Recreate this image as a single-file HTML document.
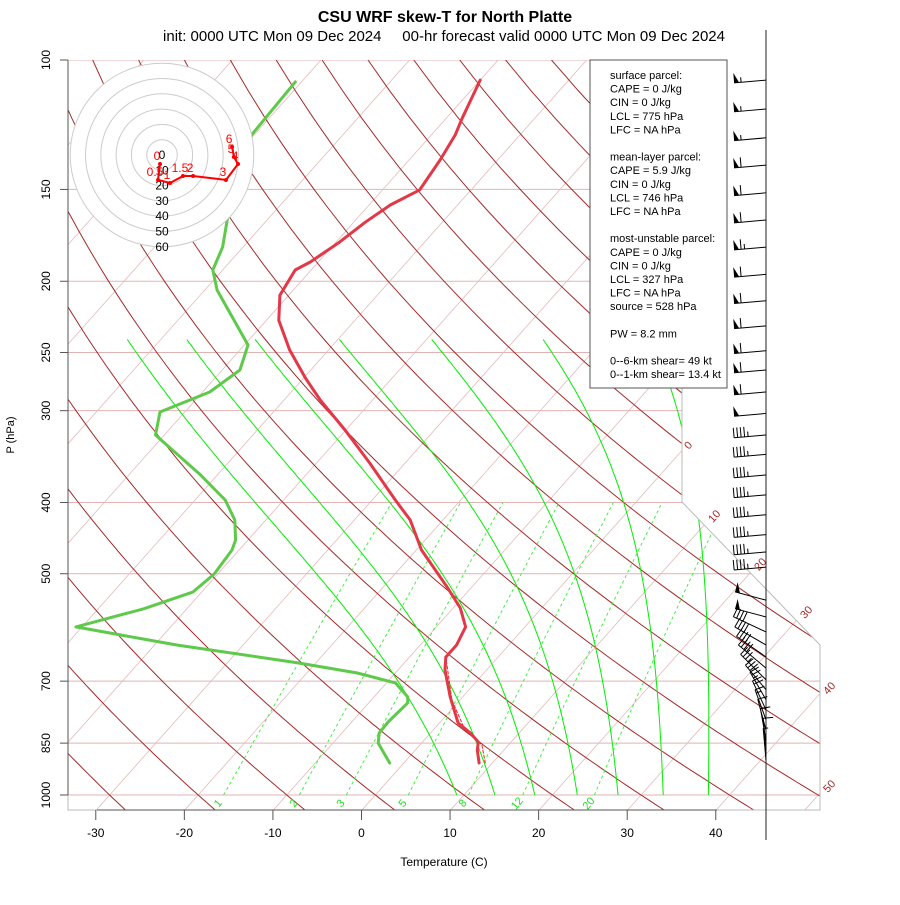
<!DOCTYPE html>
<html><head><meta charset="utf-8"><style>
body{margin:0;background:#fff;}
svg{font-family:"Liberation Sans",sans-serif;}
</style></head><body>
<svg id="chart" width="900" height="900" viewBox="0 0 900 900" xmlns="http://www.w3.org/2000/svg">
<defs>
<clipPath id="plotClip"><polygon points="68,60 682,60 682,502 820,645 820,810 68,810"/></clipPath>
</defs>
<rect width="900" height="900" fill="#fff"/>
<text x="445" y="22" text-anchor="middle" font-size="16" font-weight="bold">CSU WRF skew-T for North Platte</text>
<text x="444" y="41" text-anchor="middle" font-size="15" xml:space="preserve">init: 0000 UTC Mon 09 Dec 2024     00-hr forecast valid 0000 UTC Mon 09 Dec 2024</text>
<g id="grid" clip-path="url(#plotClip)"></g>
<g id="frame"></g>
<g id="profiles"></g>
<g id="barbs"></g>
<g id="hodo"></g>
<g id="legend">
<rect x="590" y="60" width="137" height="328" fill="#fff" stroke="#555" stroke-width="1"/>
</g>
<text x="444" y="866" text-anchor="middle" font-size="12">Temperature (C)</text>
<text x="14" y="435" text-anchor="middle" font-size="11" transform="rotate(-90 14 435)">P (hPa)</text>
</svg>
<script>
const pressureTicks=[100,150,200,250,300,400,500,700,850,1000];
const tempTicks=[-30,-20,-10,0,10,20,30,40];
const isoTemps=[-110,-100,-90,-80,-70,-60,-50,-40,-30,-20,-10,0,10,20,30,40,50];
const thetaVals=[-40,-30,-20,-10,0,10,20,30,40,50,60,70,80,90,100,110,120,130,140,150,160,170,180,190];
const moistStart=[9.2,13.5,18,22.8,27.4,32.5,37.6];
const mixVals=[1,2,3,5,8,12,20];
const tempP=[106.5,120,126.5,136.8,150.2,157.5,166.2,176.9,188.3,193.1,208.9,226,248,270.8,290.2,318.7,353.4,396.8,422.5,464.2,521.2,556.6,590.6,625.1,649.2,675.9,735.5,798,823.4,847,868.8,904.6];
const tempT=[-60,-58.2,-57.3,-56.5,-55.8,-57.6,-58.7,-59.6,-60.9,-61.8,-61,-58.6,-54.4,-49.8,-45.9,-40.1,-34,-27.4,-23.7,-19.4,-12.8,-9.2,-6.7,-5.9,-5.9,-4.7,-1.4,2.1,4.5,6.3,7,8.5];
const dewP=[107.1,126.5,165.1,179.7,193.1,205.6,244.2,264.1,282.9,301.2,323.7,366.9,396.8,422.5,449.8,464.2,500.4,529.6,558.3,590.6,605.6,625.1,661.6,682.3,703.9,735.5,749.4,795.6,823.4,849.9,904.6];
const dewT=[-80.7,-80.3,-74.5,-72.3,-71.1,-68.6,-59.6,-58,-59.2,-62.8,-61,-51.9,-46.6,-43.5,-41.4,-40.8,-40.4,-41,-44.9,-50.7,-44.9,-37.5,-21.8,-14.3,-9,-6.2,-5.6,-5.9,-5.8,-4.9,-1.6];
const parcelP=[904.6,855,815.9,742.6,661.6];
const parcelT=[9.2,7.0,3.6,-0.9,-5.2];
const barbP=[106.5,116.6,127.6,139,151.6,165.1,179.7,195.7,212.6,230,248.6,264.1,282.9,302.6,323.7,344,366.9,390.5,415.6,442.3,467,489.8,543.1,572.5,600,625,649,672,697,719,742,766,790,816,842,869,897];
const barbSpd=[55,55,55,60,60,60,65,60,60,60,60,60,60,50,45,45,45,45,45,45,45,45,50,50,40,40,40,40,35,30,25,20,15,12,10,8,5];
const barbDir=[265,265,265,265,265,265,265,265,265,265,265,265,265,265,265,265,265,265,265,265,265,265,285,285,295,300,305,310,315,320,330,335,340,345,350,355,355];
const hodoLabels=["0","0.5","1","1.5","2","3","4","5","6"];
const hodoU=[-1.3,-2.6,5.2,13.7,20.3,41.8,49.7,47,45.8];
const hodoV=[-5.9,-16.3,-18.3,-13.7,-13.7,-16.3,-5.9,-1.3,5.2];
const hodoRings=[10,20,30,40,50,60];
const legendLines=["surface parcel:","CAPE = 0 J/kg","CIN = 0 J/kg","LCL = 775 hPa","LFC = NA hPa","","mean-layer parcel:","CAPE = 5.9 J/kg","CIN = 0 J/kg","LCL = 746 hPa","LFC = NA hPa","","most-unstable parcel:","CAPE = 0 J/kg","CIN = 0 J/kg","LCL = 327 hPa","LFC = NA hPa","source = 528 hPa","","PW =  8.2 mm","","0--6-km shear= 49 kt","0--1-km shear= 13.4 kt"];

const NS="http://www.w3.org/2000/svg";
function yP(p){return 795-735*Math.log10(1000/p);}
function xT(T,p){return 362+8.857*T+0.89*(810-yP(p));}
function mk(tag,attrs,parent){const e=document.createElementNS(NS,tag);for(const k in attrs)e.setAttribute(k,attrs[k]);parent.appendChild(e);return e;}
function pathFrom(pts){return pts.map((q,i)=>(i?'L':'M')+q[0].toFixed(1)+','+q[1].toFixed(1)).join('');}
const grid=document.getElementById('grid'),frame=document.getElementById('frame'),prof=document.getElementById('profiles');

pressureTicks.forEach(p=>{const l=mk('line',{x1:68,x2:820,y1:yP(p),y2:yP(p),stroke:'#e3b3b3','stroke-width':1},grid);

});
isoTemps.forEach(T=>{const l=mk('line',{x1:xT(T,1050),y1:yP(1050),x2:xT(T,90),y2:yP(90),stroke:'#e6baba','stroke-width':0.8},grid);

});
thetaVals.forEach(th=>{const pts=[];for(let p=1050;p>=95;p-=10){const T=(th+273.15)*Math.pow(p/1000,0.2857)-273.15;pts.push([xT(T,p),yP(p)]);}
const l=mk('path',{d:pathFrom(pts),fill:'none',stroke:'#a52a2a','stroke-width':1},grid);

});
function es(T){return 6.112*Math.exp(17.67*T/(T+243.5));}
moistStart.forEach(T0=>{let T=T0;const f=0.87-0.0072*Math.max(0,T0-12);const pts=[];for(let p=1000;p>=240;p-=2){pts.push([xT(T,p),yP(p)]);const Tk=T+273.15;const e=es(T);const rs=f*0.622*e/(p-e);
const dTdp=(287*Tk+2.5e6*rs)/(p*(1004+2.5e6*2.5e6*rs*0.622/(287*Tk*Tk)));T-=dTdp*2;}
const l=mk('path',{d:pathFrom(pts),fill:'none',stroke:'#00ee00','stroke-width':1},grid);

});
function tdFromW(w,p){const e=w*p/(622+w);const a=Math.log(e/6.112);return 243.5*a/(17.67-a);}
mixVals.forEach(w=>{const pts=[];for(let p=1000;p>=400;p-=20)pts.push([xT(tdFromW(w,p),p),yP(p)]);
const l=mk('path',{d:pathFrom(pts),fill:'none',stroke:'#33ee33','stroke-width':0.9,'stroke-dasharray':'3,3'},grid);


const lx=xT(tdFromW(w,1000),1000)-6;const t=mk('text',{x:lx,y:807,'font-size':11,fill:'#22dd22','text-anchor':'middle',transform:'rotate(-50 '+lx+' 803)'},frame);t.textContent=w;

});
const isoLabelTxt=["0","10","20","30","40","50"];
const isoLabelPos=[[688,445],[714,516],[760,564],[806,612],[829,688],[829,786]];
isoLabelTxt.forEach((s,i)=>{const [x,y]=isoLabelPos[i];const t=mk('text',{x:x,y:y+4,'font-size':11,fill:'#a52a2a','text-anchor':'middle',transform:'rotate(-48 '+x+' '+y+')'},frame);t.textContent=s;

});
mk('polyline',{points:'682,60 682,502 820,645 820,810 68,810 68,60',fill:'none',stroke:'#bbb','stroke-width':1},frame);
mk('line',{x1:68,y1:60,x2:68,y2:795,stroke:'#555','stroke-width':1},frame);
mk('line',{x1:97,y1:810,x2:717,y2:810,stroke:'#555','stroke-width':1},frame);
pressureTicks.forEach(p=>{const y=yP(p);mk('line',{x1:60,x2:68,y1:y,y2:y,stroke:'#555'},frame);
const t=mk('text',{x:50,y:y,'font-size':12,'text-anchor':'middle',transform:'rotate(-90 50 '+y+')'},frame);t.textContent=p;

});
tempTicks.forEach(T=>{const x=xT(T,1050);mk('line',{x1:x,x2:x,y1:810,y2:820,stroke:'#555'},frame);
const t=mk('text',{x:x,y:837,'font-size':12,'text-anchor':'middle'},frame);t.textContent=T;

});
function profile(P,T,col,w,name,dash){const pts=P.map((p,i)=>[xT(T[i],p),yP(p)]);const a={d:pathFrom(pts),fill:'none',stroke:col,'stroke-width':w,'stroke-linejoin':'round','stroke-linecap':'round'};if(dash)a['stroke-dasharray']=dash;const l=mk('path',a,prof);

}
profile(dewP,dewT,'#5ec94a',3,'dewpoint-line');
profile(parcelP,parcelT,'#ff2020',1,'parcel-line','3,2');
profile(tempP,tempT,'#e23848',3,'temperature-line');
const bg=document.getElementById('barbs');
mk('line',{x1:766,y1:30,x2:766,y2:840,stroke:'#222','stroke-width':1},bg);
barbP.forEach((p,i)=>{const d=barbDir[i]*Math.PI/180,sp=barbSpd[i];const bx=766,by=yP(p),L=(p>590&&p<700)?36:32;
const ux=Math.sin(d),uy=-Math.cos(d);const fx=-uy,fy=ux;
const g=mk('g',{},bg);


mk('line',{x1:bx,y1:by,x2:bx+ux*L,y2:by+uy*L,stroke:'#000','stroke-width':1},g);
let r=Math.round(sp/5)*5,pos=L;
while(r>=50){const ax=bx+ux*pos,ay=by+uy*pos,cx=bx+ux*(pos-5),cy=by+uy*(pos-5);
mk('polygon',{points:ax+','+ay+' '+(ax+fx*10)+','+(ay+fy*10)+' '+cx+','+cy,fill:'#000'},g);pos-=7;r-=50;}
while(r>=10){const ax=bx+ux*pos,ay=by+uy*pos;mk('line',{x1:ax,y1:ay,x2:ax+fx*10,y2:ay+fy*10,stroke:'#000'},g);pos-=3.5;r-=10;}
if(r>=5){const ax=bx+ux*pos,ay=by+uy*pos;mk('line',{x1:ax,y1:ay,x2:ax+fx*5,y2:ay+fy*5,stroke:'#000'},g);}
});
const hg=document.getElementById('hodo');const hx=162,hy=155,hs=1.53;
mk('circle',{cx:hx,cy:hy,r:hs*60,fill:'#fff',stroke:'none'},hg);
hodoRings.forEach(r=>{const c=mk('circle',{cx:hx,cy:hy,r:hs*r,fill:'none',stroke:'#ccc','stroke-width':1},hg);

});
hodoRings.concat([0]).forEach(r=>{const t=mk('text',{x:hx,y:hy+hs*r+4,'font-size':12,'text-anchor':'middle'},hg);t.textContent=r;});
const hp=hodoU.map((u,i)=>[hx+u*hs,hy-hodoV[i]*hs]);
mk('path',{d:pathFrom(hp),fill:'none',stroke:'#ff0000','stroke-width':2},hg);
hp.forEach((q,i)=>{mk('circle',{cx:q[0],cy:q[1],r:2,fill:'#ff0000'},hg);const t=mk('text',{x:q[0]-3,y:q[1]-4,'font-size':12,fill:'#ff0000','text-anchor':'middle'},hg);t.textContent=hodoLabels[i];

});
const lg=document.getElementById('legend');
legendLines.forEach((s,i)=>{if(!s)return;const t=mk('text',{x:610,y:79+i*13.6,'font-size':11},lg);t.textContent=s;

});
</script>
</body></html>
